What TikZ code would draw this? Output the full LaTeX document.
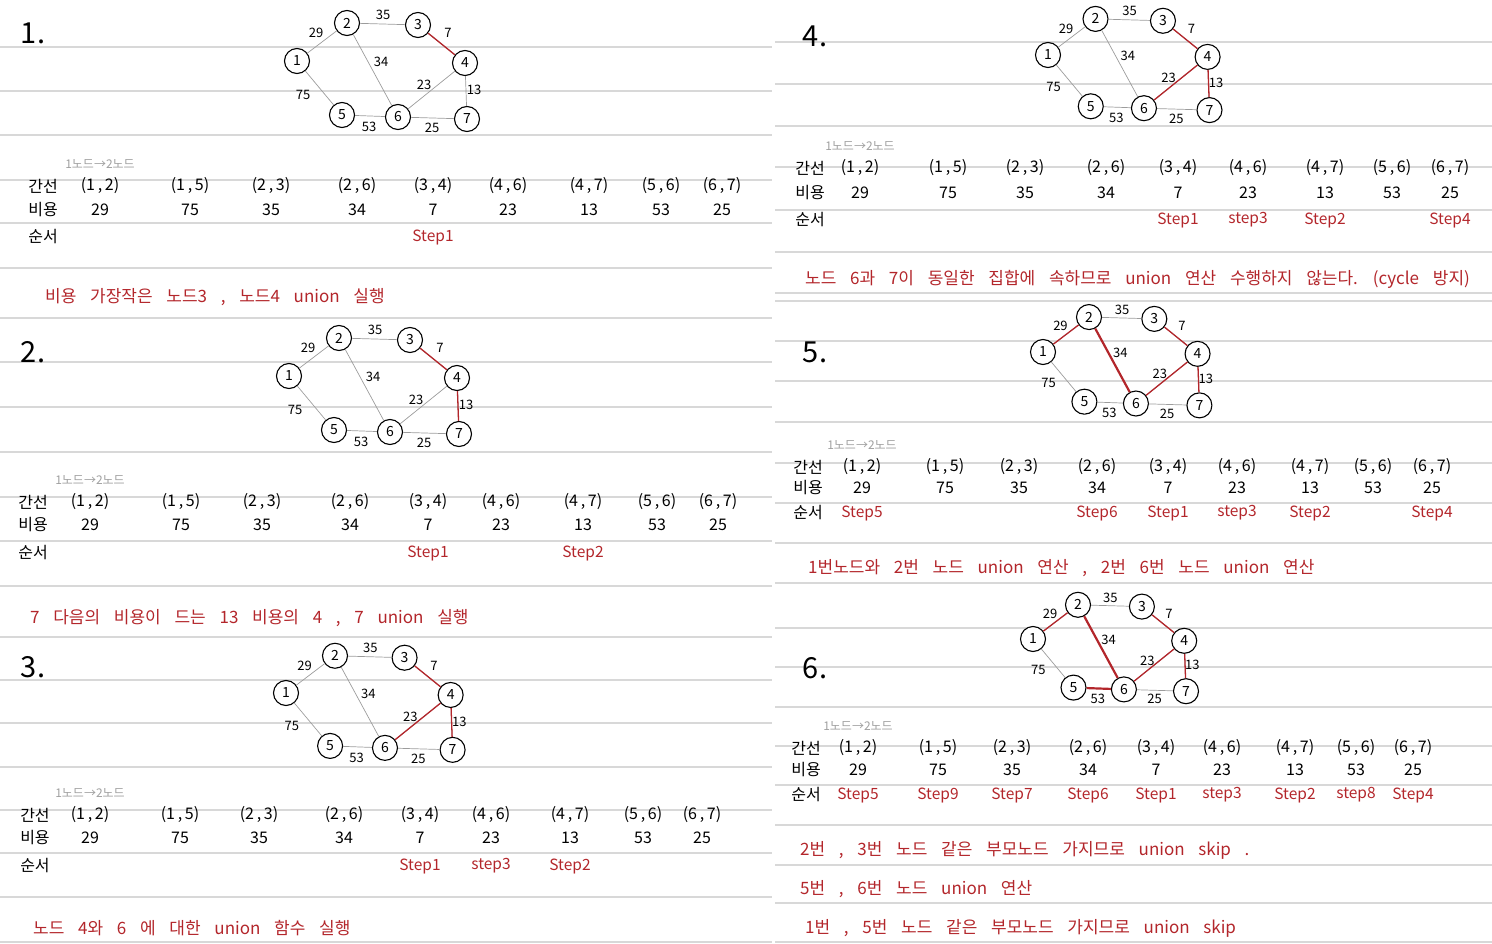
\documentclass[tikz,border=0pt]{standalone}
\usepackage{fontspec}
\setmainfont{Noto Sans CJK KR}
\newfontfamily\notefont[WordSpace=3.6]{Noto Sans CJK KR}
\usetikzlibrary{positioning}

\definecolor{inkred}{HTML}{B3262B}
\definecolor{ruleg}{HTML}{D8D8D8}
\definecolor{edgeg}{HTML}{9C9C9C}

\tikzset{
  main node/.style={circle,draw,fill=white,line width=1.1pt,minimum size=25pt,
    inner sep=0pt,font=\fontsize{14}{14}\selectfont},
  thin edge/.style={draw=edgeg,line width=0.7pt},
  red edge/.style={draw=inkred},
  wlabel/.style={font=\fontsize{13}{13}\selectfont,inner sep=0pt},
  rowlab/.style={font=\fontsize{16}{16}\selectfont,inner sep=1pt},
  pair/.style={font=\fontsize{16}{16}\selectfont,inner sep=1pt},
  stepl/.style={text=inkred,font=\fontsize{15.5}{15.5}\selectfont,inner sep=1pt},
  hint/.style={text=gray!75,font=\fontsize{12}{12}\selectfont,inner sep=1pt},
  note/.style={text=inkred,font=\notefont\fontsize{17}{17}\selectfont,anchor=west,inner sep=0pt},
  panel num/.style={font=\fontsize{29}{29}\selectfont,inner sep=0pt},
  rule line/.style={draw=ruleg,line width=1.6pt}
}

% graph: name, shift, scale, red edges u/v/width
\newcommand{\mstgraph}[4]{%
  \begin{scope}[shift={#2},scale=#3]
    \node[main node] (#1-1) at (0,0) {1};
    \node[main node] (#1-2) at (50,-38) {2};
    \node[main node] (#1-3) at (121,-36) {3};
    \node[main node] (#1-4) at (168,2) {4};
    \node[main node] (#1-5) at (45,54) {5};
    \node[main node] (#1-6) at (101,56) {6};
    \node[main node] (#1-7) at (170,58) {7};
    \path[thin edge]
      (#1-1) edge (#1-2) edge (#1-5)
      (#1-2) edge (#1-3) edge (#1-6)
      (#1-3) edge (#1-4)
      (#1-4) edge (#1-6) edge (#1-7)
      (#1-5) edge (#1-6)
      (#1-6) edge (#1-7);
    \foreach \u/\v/\w in {#4}
      \draw[red edge,line width=\w] (#1-\u) -- (#1-\v);
    \node[wlabel] at (19,-28) {29};
    \node[wlabel] at (86,-46) {35};
    \node[wlabel] at (151,-28) {7};
    \node[wlabel] at (84,1) {34};
    \node[wlabel] at (127,24) {23};
    \node[wlabel] at (177,29) {13};
    \node[wlabel] at (6,34) {75};
    \node[wlabel] at (72,66) {53};
    \node[wlabel] at (135,67) {25};
  \end{scope}}

% table: name, y of the three rows, label x, column x list
\newcommand{\edgetable}[6]{%
  \node[rowlab] (#1-ks) at (#5,#2) {간선};
  \node[rowlab] (#1-bs) at (#5,#3) {비용};
  \node[rowlab] (#1-ss) at (#5,#4) {순서};
  \foreach \a/\b/\c [count=\i] in {1/2/29,1/5/75,2/3/35,2/6/34,3/4/7,4/6/23,4/7/13,5/6/53,6/7/25}{
    \pgfmathsetmacro\xx{{#6}[\i-1]}
    \node[pair] (#1-e\i) at (\xx,#2) {(\a\,,\,\b)};
    \node[pair] (#1-c\i) at (\xx,#3) {\c};
  }
  \node[hint,above=7pt of #1-e1] (#1-h) {1노드→2노드};}

\begin{document}
\begin{tikzpicture}[x=1pt,y=-1pt]
  \useasboundingbox (0,0) rectangle (1492,944);

  \foreach \y in {47,91,135,180,223,268,318,362,407,452,497,541,586,637,680,723,767,810,853,897,942}
    \draw[rule line] (0,\y) -- (772,\y);
  \foreach \y in {42,84,126,167,210,252,293,301,341,381,422,463,503,543,583,628,667,707,746,785,825,865,903,942}
    \draw[rule line] (775,\y) -- (1492,\y);

  % 1.
  \node[panel num] (n1) at (33,33) {1.};
  \mstgraph{a}{(297,61)}{1}{3/4/1.3pt}
  \edgetable{ta}{186}{210}{237}{43}{100,190,271,357,433,508,589,661,722}
  \node[stepl] at (ta-e5 |- ta-ss) {Step1};
  \node[note] (na) at (45,297) {비용 가장작은 노드3 , 노드4 union 실행};

  % 2.
  \node[panel num] (n2) at (33,352) {2.};
  \mstgraph{b}{(289,376)}{1}{3/4/1.3pt,4/7/1.3pt}
  \edgetable{tb}{502}{525}{553}{33}{90,181,262,350,428,501,583,657,718}
  \node[stepl] at (tb-e5 |- tb-ss) {Step1};
  \node[stepl] at (tb-e7 |- tb-ss) {Step2};
  \node[note] (nb) at (30,618) {7 다음의 비용이 드는 13 비용의 4 , 7 union 실행};

  % 3.
  \node[panel num] (n3) at (33,667) {3.};
  \mstgraph{c}{(286,693)}{0.98}{3/4/1.3pt,4/7/1.3pt,4/6/1.3pt}
  \edgetable{tc}{815}{838}{866}{35}{90,180,259,344,420,491,570,643,702}
  \foreach \i/\s in {5/Step1,6/step3,7/Step2}
    \node[stepl] at (tc-e\i |- tc-ss) {\s};
  \node[note] (nc) at (33,928) {노드 4와 6 에 대한 union 함수 실행};

  % 4.
  \node[panel num] (n4) at (815,36) {4.};
  \mstgraph{d}{(1048,55)}{0.95}{3/4/1.3pt,4/6/1.3pt,4/7/1.3pt}
  \edgetable{td}{168}{193}{220}{810}{860,948,1025,1106,1178,1248,1325,1392,1450}
  \foreach \i/\s in {5/Step1,6/step3,7/Step2,9/Step4}
    \node[stepl] at (td-e\i |- td-ss) {\s};
  \node[note] (nd) at (805,279) {노드 6과 7이 동일한 집합에 속하므로 union 연산 수행하지 않는다. (cycle 방지)};

  % 5.
  \node[panel num] (n5) at (815,352) {5.};
  \mstgraph{e}{(1043,352)}{0.92}{3/4/1.3pt,4/6/1.3pt,4/7/1.3pt,1/2/1.3pt,2/6/2.2pt}
  \edgetable{te}{467}{488}{513}{808}{862,945,1019,1097,1168,1237,1310,1373,1432}
  \foreach \i/\s in {1/Step5,4/Step6,5/Step1,6/step3,7/Step2,9/Step4}
    \node[stepl] at (te-e\i |- te-ss) {\s};
  \node[note] (ne) at (808,568) {1번노드와 2번 노드 union 연산 , 2번 6번 노드 union 연산};

  % 6.
  \node[panel num] (n6) at (815,668) {6.};
  \mstgraph{f}{(1033,639)}{0.9}{3/4/1.3pt,4/6/1.3pt,4/7/1.3pt,1/2/1.3pt,2/6/2.2pt,5/6/2.2pt}
  \edgetable{tf}{748}{770}{795}{806}{858,938,1012,1088,1156,1222,1295,1356,1413}
  \foreach \i/\s in {1/Step5,2/Step9,3/Step7,4/Step6,5/Step1,6/step3,7/Step2,8/step8,9/Step4}
    \node[stepl] at (tf-e\i |- tf-ss) {\s};
  \node[note] (nf1) at (800,850) {2번 , 3번 노드 같은 부모노드 가지므로 union skip .};
  \node[note] (nf2) at (800,889) {5번 , 6번 노드 union 연산};
  \node[note] (nf3) at (805,928) {1번 , 5번 노드 같은 부모노드 가지므로 union skip};
\end{tikzpicture}
\end{document}
